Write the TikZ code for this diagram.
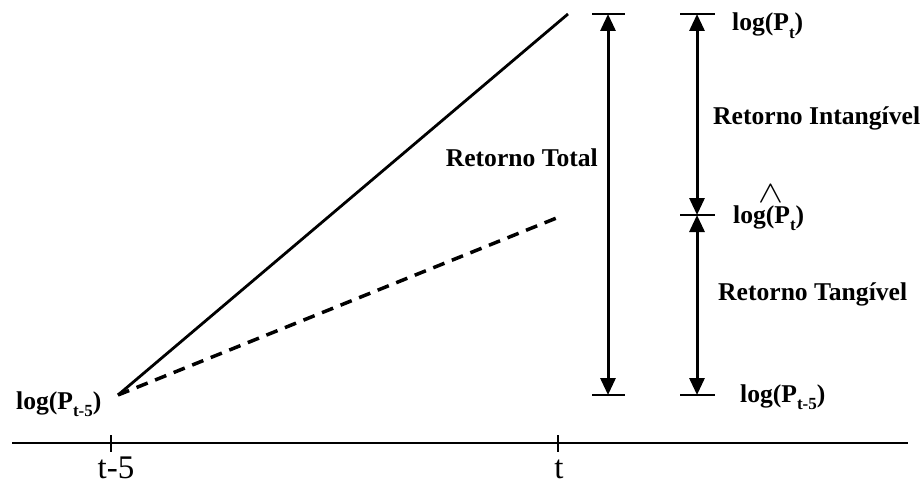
\documentclass[tikz,border=0pt]{standalone}
\usepackage{fontspec}
\setmainfont{Liberation Serif}
\usetikzlibrary{arrows.meta}
\newcommand{\subsc}[1]{\raisebox{-0.28em}{\fontsize{17}{17}\selectfont #1}}
\begin{document}
\begin{tikzpicture}[x=1pt,y=-1pt,
  lbl/.style={font=\fontsize{25.6}{26}\selectfont\bfseries, inner sep=0pt},
  axlbl/.style={font=\fontsize{33}{34}\selectfont, inner sep=0pt, anchor=base},
  bar/.style={line width=1.6pt},
  darr/.style={line width=3pt, {Triangle[width=15pt,length=17pt]}-{Triangle[width=15pt,length=17pt]}}]
\useasboundingbox (0,0) rectangle (923,487);
% axis
\coordinate (axL) at (12,443);
\coordinate (axR) at (908,443);
\draw[line width=2pt] (axL) -- (axR);
\draw[line width=2pt] (111,435) -- (111,452);
\draw[line width=2pt] (558,435) -- (558,452);
\node[axlbl] (t5) at (116,478) {t-5};
\node[axlbl] (tt) at (559,478) {t};
% lines
\coordinate (O) at (118,395);
\coordinate (A) at (568,14);
\coordinate (B) at (559,217);
\draw[line width=2.8pt] (O) -- (A);
\draw[line width=3.5pt, dash pattern=on 12pt off 8pt] (O) -- (B);
% bars
\coordinate (T1) at (608,14);
\coordinate (B1) at (608,395);
\coordinate (T2) at (697,14);
\coordinate (M2) at (697,215);
\coordinate (B2) at (697,395);
\draw[bar] (592,14) -- (625,14);
\draw[bar] (592,395) -- (625,395);
\draw[bar] (680,14) -- (715,14);
\draw[bar] (680,215) -- (715,215);
\draw[bar] (680,395) -- (715,395);
% arrows
\draw[darr] (B1) -- (T1);
\draw[darr] (M2) -- (T2);
\draw[darr] (B2) -- (M2);
% labels
\node[lbl, anchor=base west] (lp0) at (16,409) {log(P\subsc{t-5})};
\node[lbl, anchor=base west] (lpt) at (732,31) {log(P\subsc{t})};
\node[lbl, anchor=base west] (lph) at (733,223) {log(P\subsc{t})};
\node[inner sep=0pt, font=\fontsize{36}{36}\selectfont] (hat) at (771,194) {\scalebox{1.5}[1.25]{$\wedge$}};
\node[lbl, anchor=base west] (lp5) at (740,402) {log(P\subsc{t-5})};
\node[lbl, anchor=base east] (rt) at (598,166) {Retorno Total};
\node[lbl, anchor=base west] (ri) at (713,124) {Retorno Intangível};
\node[lbl, anchor=base west] (rg) at (718,300) {Retorno Tangível};
\end{tikzpicture}
\end{document}
